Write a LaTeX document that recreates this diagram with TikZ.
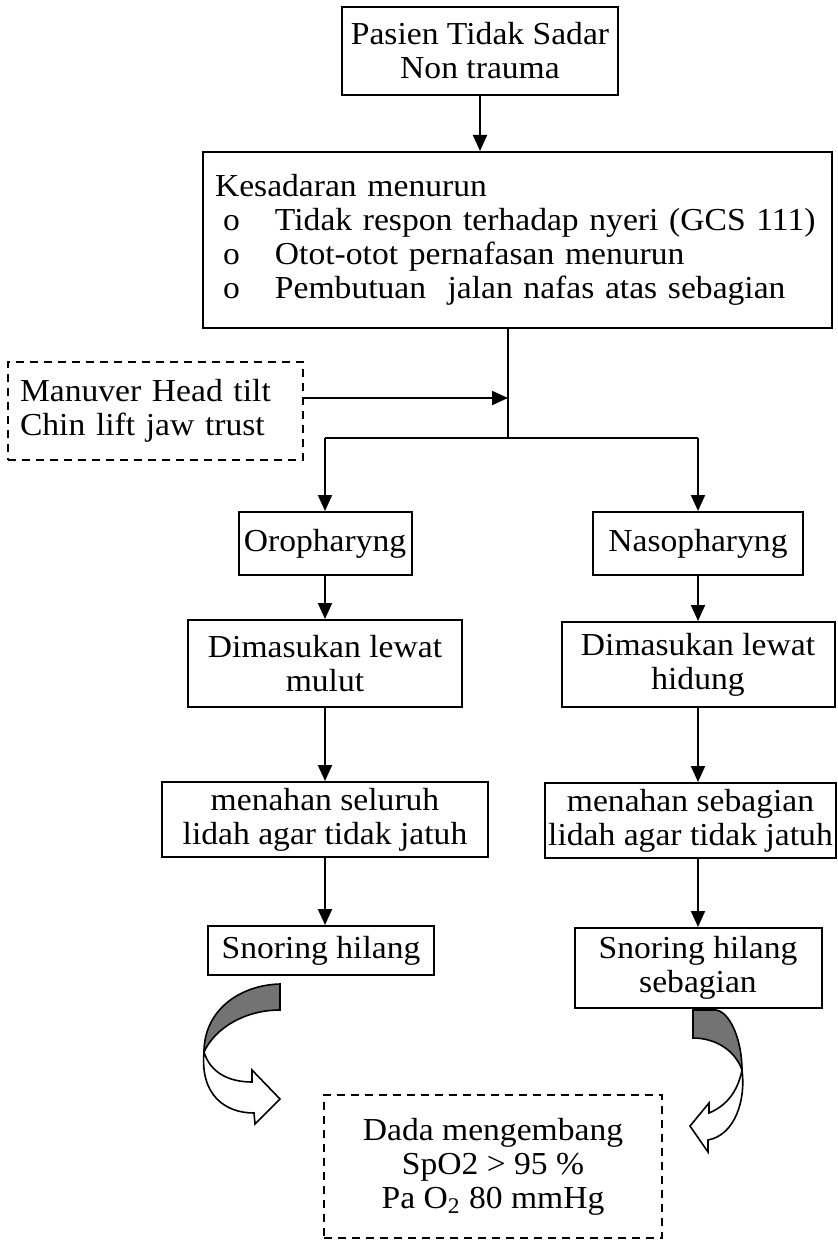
\documentclass[tikz,border=0pt]{standalone}
\usepackage{fontspec}
\setmainfont{Liberation Serif}[FakeStretch=1.05]
\usetikzlibrary{arrows.meta}

\newcommand{\itm}{\makebox[30pt][l]{\hspace*{4pt}o}}

\begin{document}
\begin{tikzpicture}[
    x=0.5pt, y=-0.5pt,
    box/.style={draw, line width=1pt, inner sep=1pt, align=center, font=\fontsize{16}{17}\selectfont},
    dbox/.style={box, line width=0.9pt, dash pattern=on 4pt off 3pt},
    ln/.style={line width=1pt},
    arr/.style={-{Triangle[length=8pt,width=7pt]}, line width=1pt},
    back/.style={draw, line width=0.8pt, fill=black!55},
    front/.style={draw, line width=0.8pt, fill=white}
]
\useasboundingbox (0,0) rectangle (838,1241);

% ---------- Nodes ----------
\node[box, minimum width=138pt, minimum height=44pt] (pasien) at (480,51) {Pasien Tidak Sadar\\Non trauma};
\node[box, align=left, text width=302.5pt, inner xsep=6pt, minimum height=88pt] (sadar) at (517.5,240)
    {Kesadaran menurun\\\itm Tidak respon terhadap nyeri (GCS 111)\\\itm Otot-otot pernafasan menurun\\\itm Pembutuan\ \ jalan nafas atas sebagian};
\node[dbox, align=left, text width=135.5pt, inner xsep=6pt, minimum height=49pt] (manuver) at (155.5,411)
    {Manuver Head tilt\\Chin lift jaw trust};

\node[box, minimum width=86.5pt, minimum height=31.5pt] (oro)  at (325,543.5) {Oropharyng};
\node[box, minimum width=105pt, minimum height=31.5pt]  (naso) at (698,543.5) {Nasopharyng};

\node[box, minimum width=137pt, minimum height=43.5pt]   (mulut)  at (325,663.5) {Dimasukan lewat\\mulut};
\node[box, minimum width=136.5pt, minimum height=42.5pt] (hidung) at (698,664.5) {Dimasukan lewat\\hidung};

\node[box, minimum width=163pt, minimum height=37.5pt]   (seluruh)  at (325,819.5) {menahan seluruh\\lidah agar tidak jatuh};
\node[box, minimum width=145.5pt, minimum height=37.5pt] (sebagian) at (690.5,820.5) {menahan sebagian\\lidah agar tidak jatuh};

\node[box, minimum width=113pt, minimum height=24.5pt]  (hilang)   at (321,950.5) {Snoring hilang};
\node[box, minimum width=123.5pt, minimum height=40pt]  (hilangsb) at (698,968) {Snoring hilang\\sebagian};

\node[dbox, minimum width=169pt, minimum height=71.5pt] (dada) at (493,1166.5)
    {Dada mengembang\\SpO2 > 95 \%\\Pa O\textsubscript{2} 80 mmHg};

% ---------- Junctions ----------
\coordinate (hit)    at (508,398);
\coordinate (split)  at (508,438);
\coordinate (splitL) at (325,438);
\coordinate (splitR) at (698,438);

% ---------- Connectors ----------
\draw[arr] (pasien) -- (pasien |- sadar.north);
\draw[ln] (split |- sadar.south) -- (split);
\draw[arr] (hit -| manuver.east) -- (hit);
\draw[ln] (splitL) -- (splitR);
\draw[arr] (splitL) -- (oro);
\draw[arr] (splitR) -- (naso);

\draw[arr] (oro) -- (mulut);
\draw[arr] (naso) -- (hidung);
\draw[arr] (mulut) -- (seluruh);
\draw[arr] (hidung) -- (hidung |- sebagian.north);
\draw[arr] (seluruh) -- (seluruh |- hilang.north);
\draw[arr] (sebagian.south -| hilangsb) -- (hilangsb);

% ---------- Curved arrows to result ----------
\draw[back] (280,984) -- (280,1010) .. controls (245,1010) and (215,1028) .. (204,1052)
    .. controls (204,1010) and (240,985) .. cycle;
\draw[front] (204,1052) .. controls (200,1095) and (225,1113) .. (254,1113) -- (255,1124) -- (280,1099)
    -- (252,1070) -- (252,1082) .. controls (228,1082) and (210,1072) .. cycle;

\draw[back] (693,1010) -- (693,1038) .. controls (715,1038) and (735,1050) .. (742,1070)
    .. controls (742,1040) and (730,1012) .. (716,1010) -- cycle;
\draw[front] (742,1070) .. controls (746,1100) and (735,1135) .. (708,1140) -- (708,1152) -- (690,1126)
    -- (709,1103) -- (709,1113) .. controls (728,1105) and (738,1090) .. cycle;

\end{tikzpicture}
\end{document}
